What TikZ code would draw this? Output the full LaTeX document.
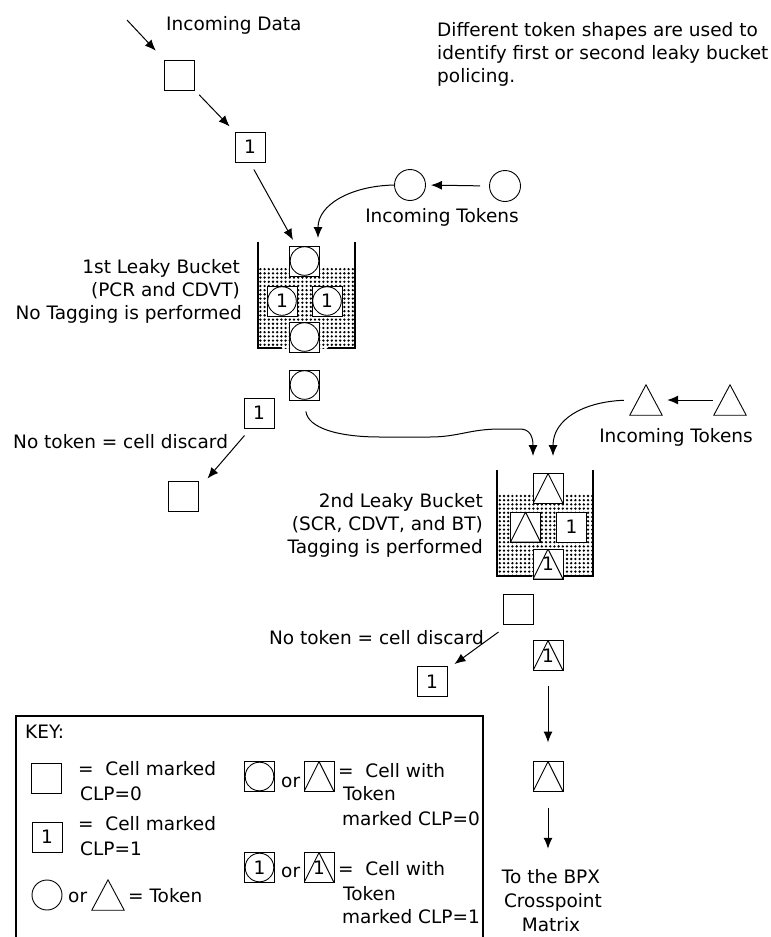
\documentclass[tikz,border=0pt]{standalone}
\usepackage{fontspec}
\setmainfont{DejaVu Sans}
\usetikzlibrary{arrows.meta,patterns.meta}
\begin{document}
\begin{tikzpicture}[x=1pt,y=-1pt,
  every node/.style={font=\fontsize{18.5}{23}\selectfont, inner sep=0pt},
  lbl/.style={anchor=base west},
  lblr/.style={anchor=base east},
  lblc/.style={anchor=base},
  cell/.style={draw, fill=white, line width=1pt, minimum width=30pt, minimum height=30pt},
  ctok/.style={cell, path picture={\draw[line width=0.9pt] (path picture bounding box.center) circle (14.3pt);
     \foreach \a in {45,135,225,315}{\fill (path picture bounding box.center) ++(\a:15.6pt) circle (1.2pt);}}},
  ttok/.style={cell, path picture={\draw[line width=0.9pt] (path picture bounding box.north) -- (path picture bounding box.south west) -- (path picture bounding box.south east) -- cycle;}},
  tokc/.style={circle, draw, line width=0.9pt, minimum size=31pt},
  tokt/.style={minimum width=32pt, minimum height=30pt},
  triline/.style={line width=0.9pt},
  arr/.style={-{Latex[length=11pt,width=9pt]}, line width=1pt},
  wall/.style={line width=1.8pt},
  stip/.style={pattern={Dots[distance=4.2pt,radius=1.3pt]}},
  keybox/.style={line width=1.2pt}
]
\useasboundingbox (0,0) rectangle (771,937);
\fill[white] (0,0) rectangle (771,937);
\clip (0,0) rectangle (771,937);

% ---------- texts ----------
\node[lbl] (tin) at (166,30) {Incoming Data};
\node[lbl] (n1) at (437,36) {Different token shapes are used to};
\node[lbl] (n2) at (437,59) {identify first or second leaky bucket};
\node[lbl] (n3) at (437,82) {policing.};
\node[lblc] (it1) at (442,222) {Incoming Tokens};
\node[lblc] (it2) at (676,442) {Incoming Tokens};
\node[lblr] (l1a) at (240,273) {1st Leaky Bucket};
\node[lblr] (l1b) at (240,296) {(PCR and CDVT)};
\node[lblr] (l1c) at (242,319) {No Tagging is performed};
\node[lbl] (nd1) at (13,448) {No token = cell discard};
\node[lblr] (l2a) at (483,507) {2nd Leaky Bucket};
\node[lblr] (l2b) at (483,530) {(SCR, CDVT, and BT)};
\node[lblr] (l2c) at (483,553) {Tagging is performed};
\node[lblr] (nd2) at (484,644) {No token = cell discard};
\node[lblc] (bpx1) at (551,883) {To the BPX};
\node[lblc] (bpx2) at (553,907) {Crosspoint};
\node[lblc] (bpx3) at (551,931) {Matrix};

% ---------- bucket 1 ----------
\fill[stip] (258,267) rectangle (355,348);
\draw[wall] (258,242) -- (258,348) -- (282,348);
\draw[wall] (355,242) -- (355,348) -- (328,348);
\node[ctok] (b1a) at (304.5,261) {};
\node[ctok] (b1b) at (282,301) {1};
\node[ctok] (b1c) at (327,301) {1};
\node[ctok] (b1d) at (304.5,337) {};

% ---------- bucket 2 ----------
\fill[stip] (497,493) rectangle (593,576);
\draw[wall] (497,470) -- (497,576) -- (532,576);
\draw[wall] (593,470) -- (593,576) -- (563,576);
\node[ttok] (b2a) at (548,488.5) {};
\node[ttok] (b2b) at (525.5,527) {};
\node[cell] (b2c) at (571.5,527) {1};
\node[ttok] (b2d) at (548,564) {1};

% ---------- cells ----------
\node[cell] (sq0) at (179.5,75) {};
\node[cell] (sq1) at (250,147) {1};
\node[ctok] (o1) at (304.5,385) {};
\node[cell] (d1) at (259,413) {1};
\node[cell] (d1b) at (183,496) {};
\node[cell] (o2) at (518,609.5) {};
\node[cell] (d2) at (432,681.5) {1};
\node[ttok] (c1) at (548,655.5) {1};
\node[ttok] (c2) at (548,776.5) {};

% ---------- tokens ----------
\node[tokc] (tk1) at (410,185) {};
\node[tokc] (tk2) at (505,186) {};
\node[tokt] (tt1) at (646,400) {};
\node[tokt] (tt2) at (730,400) {};
\draw[triline] (tt1.north) -- (tt1.south west) -- (tt1.south east) -- cycle;
\draw[triline] (tt2.north) -- (tt2.south west) -- (tt2.south east) -- cycle;

% ---------- connectors ----------
\coordinate (src) at (127,20);
\coordinate (b1inA) at (293,240);
\coordinate (b1inB) at (318,238);
\coordinate (b2inA) at (533,456);
\coordinate (b2inB) at (553,456);
\draw[arr, shorten >=12pt] (src) -- (sq0.north west);
\draw[arr, shorten <=6pt, shorten >=7pt] (sq0.south east) -- (sq1.north west);
\draw[arr, shorten <=8pt] (sq1.south) -- (b1inA);
\draw[arr, shorten <=9pt, shorten >=5pt] (tk2.west) -- (tk1.east);
\draw[arr] (tk1.west) .. controls (350,186) and (318,205) .. (b1inB);
\draw[arr, shorten <=11pt] (o1.south) .. controls (308,428) and (338,437) .. (380,437) -- (430,437) .. controls (458,437) and (470,429) .. (500,429) -- (520,429) .. controls (530,429) and (533,437) .. (b2inA);
\draw[arr, shorten <=6pt] (tt1.west) .. controls (582,402) and (553,420) .. (b2inB);
\draw[arr, shorten <=1pt, shorten >=5pt] (tt2.west) -- (tt1.east);
\draw[arr] ([shift={(1,7)}]d1.south west) -- ([shift={(9,-2)}]d1b.north east);
\draw[arr] ([shift={(-4,7)}]o2.south west) -- ([shift={(7,-2)}]d2.north east);
\draw[arr, shorten <=14.5pt, shorten >=18.5pt] (c1.south) -- (c2.north);
\draw[arr, shorten <=15.5pt, shorten >=20pt] (c2.south) -- (c2.south |- bpx1.north);

% ---------- key ----------
\begin{scope}
\clip (16,716) rectangle (482,937);
\node[lbl] (kkey) at (25,738) {KEY:};
\node[cell] (k0) at (46.5,778) {};
\node[lbl] (k0a) at (78,775) {=\ \ Cell marked};
\node[lbl] (k0b) at (80,800) {CLP=0};
\node[cell] (k1) at (47,837) {1};
\node[lbl] (k1a) at (78,830) {=\ \ Cell marked};
\node[lbl] (k1b) at (80,855) {CLP=1};
\node[tokc, minimum size=30pt] (kc) at (47,895) {};
\node[lbl] (kor) at (68,902) {or};
\node[tokt] (kt) at (108,895) {};
\draw[triline] (kt.north) -- (kt.south west) -- (kt.south east) -- cycle;
\node[lbl] (kteq) at (128,902) {= Token};
\node[ctok] (kc0) at (259.5,776.5) {};
\node[lbl] (kor0) at (281,787) {or};
\node[ttok] (kt0) at (319,776.5) {};
\node[lbl] (kw0a) at (338,777) {=\ \ Cell with};
\node[lbl] (kw0b) at (343,800) {Token};
\node[lbl] (kw0c) at (342,825) {marked CLP=0};
\node[ctok] (kc1) at (259.5,867.5) {1};
\node[lbl] (kor1) at (281,877) {or};
\node[ttok] (kt1) at (319,867.5) {1};
\node[lbl] (kw1a) at (338,875) {=\ \ Cell with};
\node[lbl] (kw1b) at (343,900) {Token};
\node[lbl] (kw1c) at (342,923) {marked CLP=1};
\end{scope}
\draw[keybox] (16,716) rectangle (483,950);
\end{tikzpicture}
\end{document}
